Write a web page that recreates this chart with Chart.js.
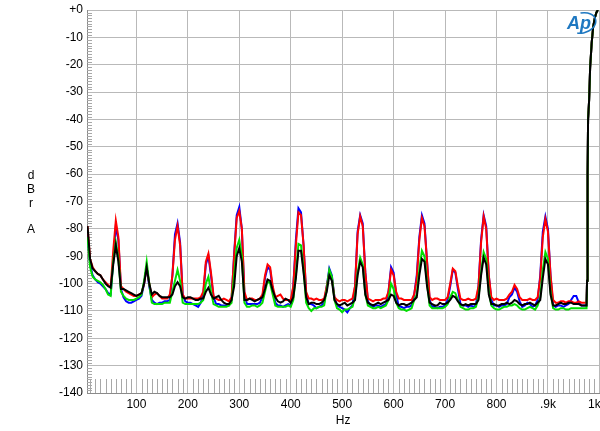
<!DOCTYPE html>
<html>
<head>
<meta charset="utf-8">
<script src="https://cdn.jsdelivr.net/npm/chart.js@4.4.1/dist/chart.umd.min.js"></script>
<style>
  html, body { margin: 0; padding: 0; background: #fff; }
  canvas { display: block; }
</style>
</head>
<body>
<canvas id="fft" width="600" height="431"></canvas>
<script>
// frequency points (Hz)
var freq = [
  5,10,15,20,25,30,35,40,45,50, 55,60,65,70,75,80,85,90,95,100,
  105,110,115,120,125,130,135,140,145,150, 155,160,165,170,175,180,185,190,195,200,
  205,210,215,220,225,230,235,240,245,250, 255,260,265,270,275,280,285,290,295,300,
  305,310,315,320,325,330,335,340,345,350, 355,360,365,370,375,380,385,390,395,400,
  405,410,415,420,425,430,435,440,445,450, 455,460,465,470,475,480,485,490,495,500,
  505,510,515,520,525,530,535,540,545,550, 555,560,565,570,575,580,585,590,595,600,
  605,610,615,620,625,630,635,640,645,650, 655,660,665,670,675,680,685,690,695,700,
  705,710,715,720,725,730,735,740,745,750, 755,760,765,770,775,780,785,790,795,800,
  805,810,815,820,825,830,835,840,845,850, 855,860,865,870,875,880,885,890,895,900,
  905,910,915,920,925,930,935,940,945,950, 955,960,965,970,975,
  976,977,978,980,982,985,988,991,994,997
];

var blueDb = [
  -82,-93,-97,-98.5,-99.5,-100,-101,-102,-103.5,-104,
  -92,-79,-84,-102,-105,-106.5,-107,-107,-106.5,-106,
  -105.5,-104.5,-100,-94,-101,-106,-107,-107.5,-107,-107,
  -106.5,-106.5,-106,-97,-82,-78,-85,-104,-106.5,-107,
  -107,-107.5,-108,-108.5,-107,-104,-93,-90,-97,-105,
  -107.5,-107.5,-108,-108,-108,-108,-106,-89,-75,-72,
  -80,-104,-107.5,-107.5,-107.5,-107.5,-107.5,-107,-105,-98,
  -94,-95,-102,-107,-108,-108,-108.5,-108,-107.5,-108,
  -101,-84,-72.5,-74,-86,-104,-107.5,-107.5,-108,-109,
  -108.5,-108,-107,-101,-94.5,-97,-105,-108,-108.5,-109,
  -109.5,-110.5,-109,-108,-101,-81,-75,-78,-96,-106.5,
  -108,-108.5,-108,-108,-108.5,-108,-107.5,-103,-94,-96,
  -104,-108.5,-108.5,-109,-108.5,-108.5,-108,-104,-97,-83,
  -75,-78,-92,-106,-108.5,-108.5,-109,-108.5,-108.5,-108,
  -106,-101,-95,-96,-102,-107.5,-108,-108,-108.5,-108,
  -108.5,-108,-101,-84,-75,-79,-97,-106,-108,-108,
  -108.5,-108,-108,-107.5,-105,-104,-101.5,-103,-106.5,-108.5,
  -108,-107,-107.5,-108.5,-108,-106,-97,-81,-75.5,-80,
  -97,-108,-108.5,-108,-108,-108.5,-108,-107.5,-106,-104.5,
  -104.5,-107,-108,-108,-108,
  -99,-60,-40,-33,-21,-12,-6,-3,-1,0
];

var redDb = [
  -79,-91,-94,-95.5,-96.5,-97,-98.5,-99.5,-100.5,-101.5,
  -88,-77,-83,-101,-102,-103,-103.5,-104,-104.5,-104.5,
  -104,-103.5,-100,-94,-100,-105,-104,-103.5,-104.5,-105.5,
  -105.5,-105.5,-104,-97,-84,-79,-86,-104,-105.5,-105.5,
  -105.5,-105.5,-105.5,-105.5,-105,-103,-92,-89,-96,-104.5,
  -105.5,-106,-106,-105.5,-106,-106.5,-105,-90,-76,-73.5,
  -80,-103,-106,-105.5,-105.5,-106,-106,-105.5,-104,-97,
  -93,-94,-101,-105,-104.5,-104,-105.5,-106,-106,-106,
  -101,-86,-74,-75,-86,-103,-105.5,-105.5,-106,-105.5,
  -106,-106,-105.5,-101,-96,-98,-105,-106,-106.5,-106,
  -106,-106.5,-106,-105.5,-101,-82,-75.5,-79,-96,-105.5,
  -106,-106.5,-106,-106,-106,-105.5,-105.5,-103,-95,-97,
  -103,-105.5,-105.5,-106,-106,-106,-106,-104,-98,-84,
  -76,-79,-92,-105,-106,-105.5,-105.5,-106,-106,-106,
  -105,-100,-94.5,-95.5,-101,-105.5,-106,-106,-105.5,-106,
  -106,-105.5,-101,-85,-75.5,-80,-97,-105,-106,-105.5,
  -106,-106,-106,-105.5,-104,-103,-100.5,-102,-105,-106,
  -106,-106,-105.5,-106,-106,-105,-98,-83,-76.5,-81,
  -97,-106,-107,-107,-106.5,-106.5,-107,-106.5,-106.5,-107,
  -107,-106.5,-107,-107,-107,
  -99,-60,-40,-33,-21,-12,-6,-3,-1,0
];

var greenDb = [
  -83,-94,-97.5,-98.5,-99,-99.5,-100.5,-102,-104,-104.5,
  -92,-85,-91,-103,-104.5,-105.5,-106,-106,-106,-105.5,
  -105,-104,-99,-92,-100,-107,-107.5,-107.5,-107.5,-107.5,
  -107,-107,-107,-103,-99,-95,-99,-107,-107.5,-107.5,
  -107.5,-107.5,-107.5,-107.5,-107,-106,-100,-97.5,-103,-107.5,
  -108,-108.5,-108.5,-108.5,-108.5,-108,-107,-97,-87,-84,
  -90,-107,-108.5,-108.5,-108,-108,-108.5,-108,-107,-103,
  -99,-100,-104,-108,-108.5,-108.5,-108.5,-108.5,-108,-108.5,
  -106,-97,-85.5,-86,-95,-107,-109,-110,-109,-109,
  -108.5,-108.5,-108,-102,-95,-97.5,-106,-109,-109.5,-110.5,
  -109.5,-109.5,-109,-108.5,-105,-96,-90.5,-93,-104,-108,
  -108.5,-109,-109,-108.5,-109,-108.5,-108,-106,-100,-102,
  -107,-109,-109.5,-109.5,-110,-109.5,-109,-106,-104,-95,
  -88,-90,-100,-108,-109,-109,-109,-109,-109,-108.5,
  -107.5,-105,-103,-103.5,-106,-108.5,-109,-109.5,-109.5,-109,
  -109,-108.5,-105,-96,-88.5,-91,-103,-108,-109,-109.5,
  -109.5,-109,-108.5,-108.5,-108,-108,-107.5,-108,-109,-109.5,
  -109.5,-109,-108.5,-109,-109.5,-108,-105,-95,-88.5,-91,
  -103,-109,-109.5,-109.5,-109,-109,-109.5,-109.5,-109,-109,
  -109,-109,-109,-109,-109,
  -99,-60,-40,-33,-21,-12,-6,-3,-1,0
];

var blackDb = [
  -79,-91,-94.5,-95.5,-96.5,-97,-98.5,-100,-101,-101.5,
  -93,-86,-92,-102,-102,-102.5,-103,-103.5,-104,-104.5,
  -104,-103.5,-100,-94,-100,-104,-103,-103.5,-104.5,-105,
  -105,-105,-105,-104,-101,-99.5,-101,-105,-105.5,-105,
  -105,-105.5,-106,-106,-105.5,-105.5,-103,-101.5,-104,-105.5,
  -105,-104.5,-106,-107,-107.5,-107.5,-106,-101,-90,-87,
  -92,-106,-106,-105.5,-106,-106.5,-106,-105.5,-105,-102,
  -98.5,-99,-102.5,-105,-106.5,-107,-106.5,-105.5,-106,-107,
  -105,-98,-88,-88,-96,-105,-107.5,-107,-107,-107.5,
  -107.5,-107,-106,-103,-97,-99,-106,-107.5,-108,-107.5,
  -107,-108,-107.5,-107,-106,-97,-92,-94,-104,-107,
  -107.5,-108,-107.5,-107,-107.5,-107,-106.5,-106,-104,-104.5,
  -107,-108,-107.5,-107.5,-108,-107.5,-107,-106,-105,-97,
  -91,-92,-101,-107,-107.5,-108,-108,-107,-107.5,-107.5,
  -107,-106,-104.5,-105,-106.5,-107.5,-108,-107.5,-108,-107.5,
  -107.5,-107.5,-106,-97,-90.5,-93,-104,-107.5,-107.5,-108,
  -108,-107.5,-107.5,-107,-107.5,-107,-106,-106.5,-107.5,-108,
  -107.5,-107.5,-107,-107.5,-108,-107,-106,-98,-91,-93,
  -104,-108,-108,-107.5,-107,-107.5,-107.5,-107,-107,-107.5,
  -107.5,-107.5,-108,-108,-108,
  -99,-60,-40,-33,-21,-12,-6,-3,-1,0
];

var yTicks = [0,-10,-20,-30,-40,-50,-60,-70,-80,-90,-100,-110,-120,-130,-140];
var xTicks = [100,200,300,400,500,600,700,800,900,1000];
var xTickLabels = ['100','200','300','400','500','600','700','800','.9k','1k   '];
var yLetters = ['d', 'B', 'r', 'A'];

function pts(arr) {
  return freq.map(function(f, i) { return { x: f, y: arr[i] }; });
}

function series(name, color, arr) {
  return {
    label: name,
    data: pts(arr),
    borderColor: color,
    backgroundColor: color,
    borderWidth: 2,
    pointRadius: 0,
    tension: 0,
    fill: false
  };
}

var gridColor = '#b9b9b9';
var font12 = { family: '"Liberation Sans", Arial, sans-serif', size: 12 };

// minor ticks, side letters and the Ap logo
var extras = {
  id: 'extras',
  beforeDatasetsDraw: function(chart) {
    var ctx = chart.ctx, xs = chart.scales.x, ys = chart.scales.y, a = chart.chartArea;
    ctx.save();
    ctx.strokeStyle = '#a8a8a8';
    ctx.lineWidth = 1;
    ctx.beginPath();
    for (var v = -139; v < 0; v++) {
      if (v % 10 === 0) continue;
      var y = Math.round(ys.getPixelForValue(v)) + 0.5;
      ctx.moveTo(a.left, y);
      ctx.lineTo(a.left + 5, y);
    }
    for (var f = 10; f < 1000; f += 10) {
      if (f % 100 === 0) continue;
      var x = Math.round(xs.getPixelForValue(f)) + 0.5;
      ctx.moveTo(x, a.bottom);
      ctx.lineTo(x, a.bottom - 14);
    }
    ctx.stroke();
    ctx.restore();
  },
  afterDraw: function(chart) {
    var ctx = chart.ctx;
    ctx.save();
    ctx.fillStyle = '#000';
    ctx.font = '12px "Liberation Sans", Arial, sans-serif';
    ctx.textAlign = 'center';
    ctx.textBaseline = 'middle';
    var ly = [176, 190, 204, 230];
    yLetters.forEach(function(t, i) { ctx.fillText(t, 31, ly[i]); });

    ctx.fillStyle = '#1f78c1';
    ctx.strokeStyle = '#1f78c1';
    ctx.font = 'italic bold 18px "Liberation Sans", Arial, sans-serif';
    ctx.fillText('Ap', 579, 24);
    ctx.lineWidth = 1.6;
    ctx.beginPath();
    ctx.ellipse(582, 23, 14, 10, -0.25, -1.5, 2.1);
    ctx.stroke();
    ctx.restore();
  }
};

new Chart(document.getElementById('fft'), {
  type: 'line',
  data: {
    datasets: [
      series('black', '#000000', blackDb),
      series('green', '#00e000', greenDb),
      series('red', '#ff0000', redDb),
      series('blue', '#0000ff', blueDb)
    ]
  },
  options: {
    responsive: false,
    animation: false,
    devicePixelRatio: 1,
    layout: { padding: { top: 10, left: 0, right: 0.6, bottom: 0 } },
    plugins: { legend: { display: false }, tooltip: { enabled: false } },
    scales: {
      x: {
        type: 'linear',
        min: 4,
        max: 1000,
        afterFit: function(s) { s.height = 38; s.paddingLeft = 0; s.paddingRight = 0; },
        afterBuildTicks: function(s) { s.ticks = xTicks.map(function(v) { return { value: v }; }); },
        grid: { color: gridColor, lineWidth: 1, drawTicks: false },
        border: { display: true, color: '#8a8a8a' },
        ticks: {
          maxRotation: 0,
          autoSkip: false,
          padding: 4,
          color: '#000',
          font: font12,
          callback: function(v, i) { return xTickLabels[i]; }
        },
        title: {
          display: true,
          text: 'Hz',
          color: '#000',
          padding: { top: 0, bottom: 3 },
          font: font12
        }
      },
      y: {
        min: -140,
        max: 0,
        afterFit: function(s) { s.width = 87; s.paddingTop = 0; s.paddingBottom = 0; },
        afterBuildTicks: function(s) { s.ticks = yTicks.map(function(v) { return { value: v }; }); },
        grid: { color: gridColor, lineWidth: 1, drawTicks: false },
        border: { display: true, color: '#8a8a8a' },
        ticks: {
          padding: 4,
          color: '#000',
          font: font12,
          callback: function(v) { return v === 0 ? '+0' : String(v); }
        }
      }
    }
  },
  plugins: [extras]
});
</script>
</body>
</html>
